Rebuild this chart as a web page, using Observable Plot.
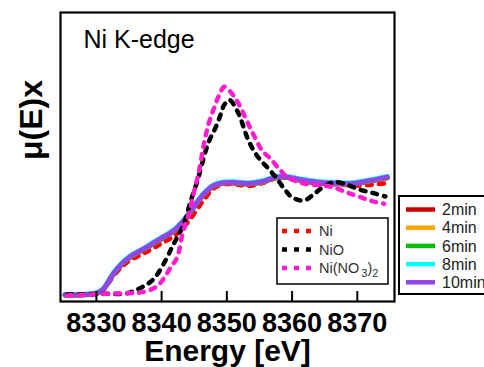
<!DOCTYPE html>
<html><head><meta charset="utf-8">
<script src="https://cdn.jsdelivr.net/npm/d3@7"></script>
<script src="https://cdn.jsdelivr.net/npm/@observablehq/plot@0.6"></script>
<style>body{margin:0;background:#fff;}</style>
</head><body><div id="chart"></div>
<script>
// ---- data ----
const xTicks = [8330, 8340, 8350, 8360, 8370];

const eSample = [8325.2, 8330.1, 8331.1, 8332.6, 8333.9, 8335.2, 8337.3, 8339.8, 8341.9, 8343.4, 8344.9, 8346.5, 8348.0, 8349.5, 8351.0, 8353.6, 8355.7, 8357.5, 8359.3, 8361.3, 8363.9, 8366.9, 8369.0, 8371.5, 8374.6];
const mu2min  = [0.004, 0.02, 0.055, 0.185, 0.272, 0.336, 0.405, 0.490, 0.565, 0.652, 0.770, 0.886, 0.960, 0.985, 0.986, 0.978, 0.998, 1.033, 1.035, 1.012, 0.990, 0.980, 0.975, 0.998, 1.032];
const mu4min  = [0.005, 0.02, 0.057, 0.188, 0.275, 0.339, 0.408, 0.494, 0.567, 0.655, 0.772, 0.889, 0.962, 0.987, 0.988, 0.980, 1.000, 1.035, 1.036, 1.013, 0.992, 0.983, 0.978, 1.000, 1.036];
const mu6min  = [0.005, 0.02, 0.058, 0.189, 0.277, 0.341, 0.409, 0.495, 0.569, 0.657, 0.774, 0.891, 0.964, 0.988, 0.990, 0.981, 1.002, 1.037, 1.037, 1.014, 0.993, 0.984, 0.979, 1.002, 1.037];
const mu8min  = [0.008, 0.024, 0.064, 0.196, 0.284, 0.348, 0.416, 0.503, 0.576, 0.664, 0.781, 0.898, 0.971, 0.995, 0.997, 0.988, 1.009, 1.044, 1.044, 1.021, 1.000, 0.991, 0.986, 1.009, 1.044];
const mu10min = [0.006, 0.02, 0.059, 0.190, 0.278, 0.342, 0.410, 0.497, 0.570, 0.658, 0.775, 0.892, 0.965, 0.989, 0.991, 0.982, 1.003, 1.038, 1.038, 1.015, 0.994, 0.985, 0.980, 1.003, 1.038];

const eNi  = [8325.2, 8330.1, 8331.1, 8332.6, 8333.9, 8335.2, 8337.3, 8339.8, 8341.9, 8343.4, 8344.9, 8346.5, 8348.0, 8349.5, 8351.0, 8353.6, 8355.7, 8357.5, 8359.3, 8361.3, 8363.9, 8366.9, 8369.0, 8371.5, 8374.6];
const muNi = [0.005, 0.02, 0.050, 0.170, 0.250, 0.310, 0.370, 0.450, 0.520, 0.600, 0.710, 0.840, 0.940, 0.975, 0.975, 0.962, 0.990, 1.030, 1.035, 1.005, 0.985, 0.975, 0.965, 0.968, 0.985];

const eNiO  = [8325.5, 8331.1, 8334.7, 8337.0, 8338.8, 8340.6, 8341.6, 8342.4, 8343.4, 8344.4, 8345.5, 8346.2, 8347.2, 8348.3, 8349.0, 8349.6, 8350.4, 8351.8, 8353.1, 8354.1, 8355.2, 8356.4, 8357.5, 8358.8, 8360.0, 8361.8, 8363.6, 8365.1, 8366.9, 8368.7, 8370.5, 8372.5, 8374.3];
const muNiO = [0.009, 0.015, 0.020, 0.073, 0.146, 0.307, 0.424, 0.510, 0.625, 0.818, 1.009, 1.155, 1.345, 1.476, 1.579, 1.672, 1.715, 1.594, 1.389, 1.272, 1.184, 1.111, 1.038, 0.936, 0.862, 0.833, 0.901, 0.965, 0.994, 0.965, 0.927, 0.897, 0.868];

const eNO3  = [8325.5, 8331.6, 8335.2, 8337.0, 8339.1, 8340.3, 8341.4, 8342.4, 8343.2, 8344.2, 8344.9, 8345.7, 8346.5, 8347.2, 8348.0, 8348.8, 8349.6, 8350.8, 8351.8, 8353.4, 8354.4, 8355.4, 8356.7, 8358.0, 8359.3, 8361.0, 8362.8, 8364.9, 8366.7, 8368.5, 8370.2, 8372.3, 8374.1];
const muNO3 = [0.000, 0.015, 0.020, 0.029, 0.073, 0.146, 0.248, 0.336, 0.541, 0.717, 0.892, 1.082, 1.331, 1.506, 1.638, 1.754, 1.830, 1.769, 1.682, 1.491, 1.375, 1.272, 1.199, 1.111, 1.038, 0.994, 0.974, 0.965, 0.941, 0.901, 0.868, 0.827, 0.804];

const sampleNames  = ["2min", "4min", "6min", "8min", "10min"];
const sampleColors = ["#cc0000", "#ffa500", "#00c000", "#00ffff", "#9147e8"];
const sampleMus    = [mu2min, mu4min, mu6min, mu8min, mu10min];

const refColors = {Ni: "#ff0000", NiO: "#000000", NO3: "#ff1dce"};

// ---- build ----
const W = 484, H = 367, mL = 60, mR = 90, mT = 12, mB = 66;
const innerH = H - mT - mB;
const FONT = "'Liberation Sans', Arial, sans-serif";
const DOT = "5 7";

const toRows = (e, mu) => e.map((x, i) => ({E: x, mu: mu[i]}));

const marks = [];
marks.push(Plot.line(toRows(eNi, muNi), {x: "E", y: "mu", stroke: refColors.Ni, strokeWidth: 4.5, strokeDasharray: DOT, curve: "catmull-rom"}));
sampleMus.forEach((mu, i) => {
  marks.push(Plot.line(toRows(eSample, mu), {x: "E", y: "mu", stroke: sampleColors[i], strokeWidth: 5, curve: "catmull-rom"}));
});
marks.push(Plot.line(toRows(eNiO, muNiO), {x: "E", y: "mu", stroke: refColors.NiO, strokeWidth: 4.5, strokeDasharray: DOT, curve: "catmull-rom"}));
marks.push(Plot.line(toRows(eNO3, muNO3), {x: "E", y: "mu", stroke: refColors.NO3, strokeWidth: 4.5, strokeDasharray: DOT, curve: "catmull-rom"}));

marks.push(Plot.frame({stroke: "black", strokeWidth: 2.2}));
marks.push(Plot.tickX(xTicks, {x: d => d, insetTop: innerH - 10, stroke: "black", strokeWidth: 2}));
marks.push(Plot.axisX(xTicks, {tickSize: 0, tickPadding: 11, fontSize: 27, fontWeight: "bold", fill: "black", tickFormat: d => String(d), label: null}));
marks.push(Plot.text(["Energy [eV]"], {frameAnchor: "bottom", lineAnchor: "middle", dy: 50, fontSize: 30, fontWeight: "bold", fill: "black"}));
marks.push(Plot.text(["μ(E)x"], {frameAnchor: "left", lineAnchor: "middle", rotate: -90, dx: -29, dy: 3, fontSize: 32, fontWeight: "bold", fill: "black"}));
marks.push(Plot.text(["Ni K-edge"], {frameAnchor: "top-left", lineAnchor: "middle", textAnchor: "start", dx: 23, dy: 27, fontSize: 25, fill: "black"}));

const plot = Plot.plot({
  width: W, height: H,
  marginLeft: mL, marginRight: mR, marginTop: mT, marginBottom: mB,
  style: {fontFamily: FONT, background: "white", overflow: "visible"},
  x: {domain: [8324.5, 8375.7], axis: null},
  y: {domain: [-0.053, 2.482], axis: null},
  marks
});
document.getElementById("chart").appendChild(plot);

// ---- legends ----
const svg = d3.select(plot);
// inner reference legend
const g1 = svg.append("g").attr("text-anchor", "start");
g1.append("rect").attr("x", 277).attr("y", 218).attr("width", 111).attr("height", 66)
  .attr("fill", "white").attr("stroke", "black").attr("stroke-width", 1.5);
const refItems = [{c: refColors.Ni, t: ["Ni"]}, {c: refColors.NiO, t: ["NiO"]}, {c: refColors.NO3, t: null}];
refItems.forEach((it, i) => {
  const y = 231 + i * 18.5;
  g1.append("line").attr("x1", 282).attr("x2", 312).attr("y1", y).attr("y2", y)
    .attr("stroke", it.c).attr("stroke-width", 4.5).attr("stroke-dasharray", DOT);
  const tx = g1.append("text").attr("x", 319).attr("y", y).attr("dy", "0.35em")
    .attr("text-anchor", "start")
    .attr("font-size", 14.5).attr("fill", "#333").attr("font-family", FONT);
  if (it.t) tx.text(it.t[0]);
  else {
    tx.append("tspan").text("Ni(NO");
    tx.append("tspan").attr("dy", 4).attr("dx", 2).attr("font-size", 11).text("3");
    tx.append("tspan").attr("dy", -4).text(")");
    tx.append("tspan").attr("dy", 4).attr("font-size", 11).text("2");
  }
});
// outer time legend
const g2 = svg.append("g").attr("text-anchor", "start");
g2.append("rect").attr("x", 399).attr("y", 196).attr("width", 110).attr("height", 98)
  .attr("fill", "white").attr("stroke", "black").attr("stroke-width", 2);
sampleNames.forEach((n, i) => {
  const y = 209.5 + i * 18.2;
  g2.append("line").attr("x1", 406).attr("x2", 435).attr("y1", y).attr("y2", y)
    .attr("stroke", sampleColors[i]).attr("stroke-width", 4.5);
  g2.append("text").attr("x", 442).attr("y", y).attr("dy", "0.35em")
    .attr("text-anchor", "start")
    .attr("font-size", 16).attr("fill", "#222").attr("font-family", FONT).text(n);
});
</script>
</body></html>
